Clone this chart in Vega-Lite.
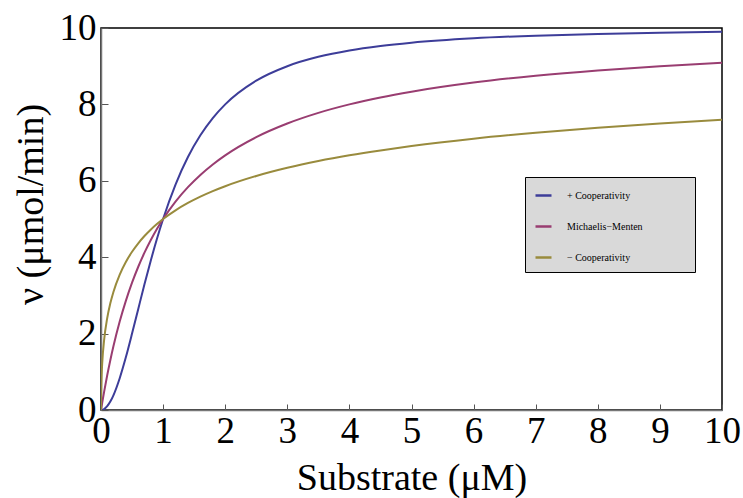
{
  "$schema": "https://vega.github.io/schema/vega-lite/v6.json",
  "width": 621,
  "height": 382,
  "autosize": "none",
  "padding": {"left": 101, "top": 28, "right": 21, "bottom": 88},
  "background": "white",
  "config": {
    "font": "Liberation Serif",
    "view": {"stroke": "#000", "strokeWidth": 1.5}
  },
  "data": {
    "values": [
      {"S": 0, "pos": 0, "mm": 0, "neg": 0},
      {"S": 0.001, "pos": 0.00001, "mm": 0.01, "neg": 0.307},
      {"S": 0.005, "pos": 0.0003, "mm": 0.05, "neg": 0.660},
      {"S": 0.01, "pos": 0.001, "mm": 0.099, "neg": 0.909},
      {"S": 0.02, "pos": 0.004, "mm": 0.196, "neg": 1.239},
      {"S": 0.05, "pos": 0.025, "mm": 0.476, "neg": 1.827},
      {"S": 0.1, "pos": 0.099, "mm": 0.909, "neg": 2.403},
      {"S": 0.15, "pos": 0.220, "mm": 1.304, "neg": 2.792},
      {"S": 0.2, "pos": 0.385, "mm": 1.667, "neg": 3.090},
      {"S": 0.3, "pos": 0.826, "mm": 2.308, "neg": 3.539},
      {"S": 0.4, "pos": 1.379, "mm": 2.857, "neg": 3.874},
      {"S": 0.5, "pos": 2.0, "mm": 3.333, "neg": 4.142},
      {"S": 0.6, "pos": 2.647, "mm": 3.75, "neg": 4.365},
      {"S": 0.7, "pos": 3.289, "mm": 4.118, "neg": 4.555},
      {"S": 0.8, "pos": 3.902, "mm": 4.444, "neg": 4.721},
      {"S": 0.9, "pos": 4.475, "mm": 4.737, "neg": 4.868},
      {"S": 1, "pos": 5.0, "mm": 5.0, "neg": 5.0},
      {"S": 1.2, "pos": 5.902, "mm": 5.455, "neg": 5.228},
      {"S": 1.4, "pos": 6.622, "mm": 5.833, "neg": 5.420},
      {"S": 1.6, "pos": 7.191, "mm": 6.154, "neg": 5.585},
      {"S": 1.8, "pos": 7.642, "mm": 6.429, "neg": 5.730},
      {"S": 2, "pos": 8.0, "mm": 6.667, "neg": 5.858},
      {"S": 2.5, "pos": 8.621, "mm": 7.143, "neg": 6.126},
      {"S": 3, "pos": 9.0, "mm": 7.5, "neg": 6.340},
      {"S": 3.5, "pos": 9.245, "mm": 7.778, "neg": 6.517},
      {"S": 4, "pos": 9.412, "mm": 8.0, "neg": 6.667},
      {"S": 4.5, "pos": 9.529, "mm": 8.182, "neg": 6.796},
      {"S": 5, "pos": 9.615, "mm": 8.333, "neg": 6.910},
      {"S": 6, "pos": 9.730, "mm": 8.571, "neg": 7.101},
      {"S": 7, "pos": 9.8, "mm": 8.75, "neg": 7.257},
      {"S": 8, "pos": 9.846, "mm": 8.889, "neg": 7.388},
      {"S": 9, "pos": 9.878, "mm": 9.0, "neg": 7.5},
      {"S": 10, "pos": 9.901, "mm": 9.091, "neg": 7.597}
    ]
  },
  "transform": [
    {"fold": ["pos", "mm", "neg"], "as": ["key", "v"]},
    {"lookup": "key", "from": {"data": {"values": [
      {"key": "pos", "label": "+ Cooperativity"},
      {"key": "mm", "label": "Michaelis\u2212Menten"},
      {"key": "neg", "label": "\u2212 Cooperativity"}
    ]}, "key": "key", "fields": ["label"]}}
  ],
  "mark": {"type": "line", "interpolate": "monotone", "strokeWidth": 2, "clip": true},
  "encoding": {
    "x": {
      "field": "S", "type": "quantitative",
      "scale": {"domain": [0, 10], "nice": false},
      "axis": {
        "values": [0,1,2,3,4,5,6,7,8,9,10],
        "title": "Substrate (\u03bcM)",
        "grid": false, "labelFlush": false, "labelOverlap": false,
        "tickSize": -6, "tickColor": "#555", "tickWidth": 1,
        "domainColor": "#777", "domainWidth": 1.5,
        "labelFontSize": 37, "labelColor": "#000", "labelPadding": 9,
        "labelFont": "Liberation Serif",
        "titleFontSize": 38, "titleFontWeight": "normal", "titleColor": "#000",
        "titleFont": "Liberation Serif", "titlePadding": 10
      }
    },
    "y": {
      "field": "v", "type": "quantitative",
      "scale": {"domain": [0, 10], "nice": false},
      "axis": {
        "values": [0,2,4,6,8,10],
        "title": "\u03bd (\u03bcmol/min)",
        "grid": false, "labelFlush": false, "labelOverlap": false,
        "tickSize": -7, "tickColor": "#555", "tickWidth": 1,
        "domainColor": "#777", "domainWidth": 1.5,
        "labelFontSize": 37, "labelColor": "#000", "labelPadding": 12,
        "labelFont": "Liberation Serif",
        "titleFontSize": 38, "titleFontWeight": "normal", "titleColor": "#000",
        "titleFont": "Liberation Serif", "titlePadding": 9, "titleY": 176
      }
    },
    "color": {
      "field": "label", "type": "nominal",
      "scale": {
        "domain": ["+ Cooperativity", "Michaelis\u2212Menten", "\u2212 Cooperativity"],
        "range": ["#3d3d99", "#993d71", "#998b3d"]
      },
      "legend": {
        "orient": "none", "legendX": 424, "legendY": 149,
        "title": "MMMMM",
        "titleOrient": "right", "titleOpacity": 0, "titleFontSize": 9, "titlePadding": 0,
        "fillColor": "#d9d9d9", "strokeColor": "#000",
        "padding": 9, "rowPadding": 16,
        "symbolType": "stroke", "symbolSize": 256, "symbolStrokeWidth": 2.5,
        "labelFont": "Liberation Serif", "labelFontSize": 10, "labelColor": "#000",
        "labelOffset": 14
      }
    }
  }
}
